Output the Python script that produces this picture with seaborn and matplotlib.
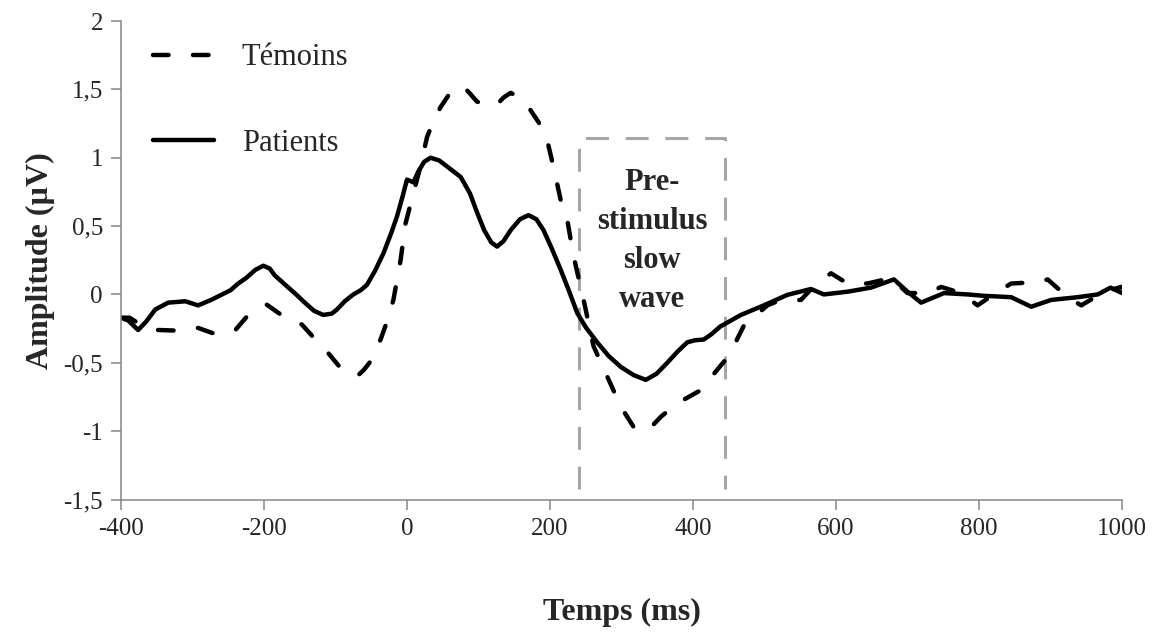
import numpy as np
import pandas as pd
import matplotlib
matplotlib.use('Agg')
import matplotlib.pyplot as plt
import seaborn as sns

# Values (time in ms, amplitude in microvolts)
temoins_t = [-400, -388, -370, -348, -320, -292, -268, -240, -222, -196, -173, -147, -128,
             -110, -91, -80, -68, -60, -51, -37, -28, -19, -9, -2, 9, 19, 28, 37, 47, 61,
             70, 79, 88, 98, 115, 126, 135, 145, 157, 170, 184, 196, 205, 215, 224, 233,
             247, 261, 280, 299, 317, 327, 336, 345, 355, 370, 387, 411, 434, 450, 471,
             504, 518, 551, 569, 593, 616, 644, 677, 700, 728, 747, 775, 798, 826, 845,
             882, 896, 924, 943, 975, 999, 1000]
temoins_amp = [-0.17, -0.17, -0.23, -0.26, -0.265, -0.245, -0.29, -0.26, -0.15, -0.075, -0.16,
               -0.22, -0.33, -0.43, -0.55, -0.585, -0.59, -0.55, -0.49, -0.33, -0.20, -0.04,
               0.25, 0.52, 0.74, 0.94, 1.15, 1.27, 1.37, 1.48, 1.51, 1.52, 1.47, 1.41, 1.38,
               1.39, 1.44, 1.475, 1.44, 1.37, 1.26, 1.13, 0.93, 0.69, 0.55, 0.28, -0.04,
               -0.38, -0.60, -0.82, -0.97, -1.0, -0.99, -0.95, -0.895, -0.83, -0.77, -0.70,
               -0.55, -0.45, -0.23, -0.08, -0.05, -0.04, 0.06, 0.155, 0.08, 0.08, 0.12,
               0.01, 0.01, 0.055, 0.01, -0.08, 0.02, 0.08, 0.09, 0.11, -0.02, -0.08, 0.02,
               0.055, 0.05]

patients_t = [-400, -390, -376, -365, -352, -334, -310, -292, -274, -247, -236, -225, -212,
              -201, -192, -185, -168, -155, -145, -130, -117, -105, -98, -87, -75, -65, -56,
              -45, -33, -22, -14, -6, 0, 9, 16, 24, 33, 45, 60, 75, 88, 98, 108, 118, 126,
              135, 145, 158, 170, 181, 191, 203, 215, 227, 238, 250, 266, 282, 299, 317,
              334, 349, 364, 378, 392, 403, 415, 426, 438, 467, 499, 532, 565, 583, 616,
              649, 681, 700, 719, 751, 784, 807, 845, 873, 901, 938, 966, 984, 1000]
patients_amp = [-0.17, -0.19, -0.26, -0.20, -0.11, -0.06, -0.05, -0.08, -0.04, 0.03, 0.08,
                0.12, 0.18, 0.21, 0.19, 0.14, 0.06, 0.0, -0.05, -0.12, -0.15, -0.14, -0.11,
                -0.05, 0.0, 0.03, 0.07, 0.17, 0.30, 0.45, 0.57, 0.72, 0.84, 0.82, 0.90,
                0.97, 1.0, 0.98, 0.92, 0.86, 0.74, 0.60, 0.47, 0.38, 0.35, 0.39, 0.47, 0.55,
                0.58, 0.55, 0.47, 0.33, 0.18, 0.02, -0.135, -0.24, -0.35, -0.45, -0.53,
                -0.59, -0.625, -0.58, -0.50, -0.42, -0.35, -0.335, -0.33, -0.29, -0.235,
                -0.15, -0.08, -0.003, 0.04, 0.0, 0.02, 0.05, 0.11, 0.02, -0.06, 0.01, 0.0,
                -0.01, -0.02, -0.09, -0.04, -0.02, 0.0, 0.05, 0.01]

groups = ['Témoins', 'Patients']
x_ticks = [-400, -200, 0, 200, 400, 600, 800, 1000]
y_ticks = [-1.5, -1, -0.5, 0, 0.5, 1, 1.5, 2]
y_tick_labels = ['-1,5', '-1', '-0,5', '0', '0,5', '1', '1,5', '2']

# window of the pre-stimulus slow wave
win_start, win_end = 240, 445
win_top, win_bottom = 1.146, -1.42

df = pd.concat([
    pd.DataFrame({'t': temoins_t, 'amp': temoins_amp, 'groupe': 'Témoins'}),
    pd.DataFrame({'t': patients_t, 'amp': patients_amp, 'groupe': 'Patients'}),
])

sns.set_style('white')
plt.rcParams['font.family'] = ['Liberation Serif', 'DejaVu Serif']

fig = plt.figure(figsize=(11.62, 6.39), dpi=100)
ax = fig.add_axes([0.1041, 0.2183, 0.8615, 0.7488])

sns.lineplot(data=df, x='t', y='amp', style='groupe', style_order=groups,
             dashes={'Témoins': (3.5, 5.5), 'Patients': ''}, color='black',
             linewidth=3.2, estimator=None, sort=False, legend=False, ax=ax)
for line in ax.lines:
    line.set_dash_capstyle('round')
    line.set_solid_capstyle('round')
    line.set_solid_joinstyle('round')
    line.set_dash_joinstyle('round')

# gray dashed window (open at the bottom)
ax.plot([win_start, win_start, win_end, win_end], [win_bottom, win_top, win_top, win_bottom],
        color='#a6a6a6', linewidth=2.2, dashes=(7.5, 5.5), zorder=1)
ax.text((win_start + win_end) / 2, 0.39, 'Pre-\nstimulus\nslow\nwave', ha='center', va='center',
        fontsize=22, fontweight='bold', linespacing=1.45)

ax.set_xlim(-400, 1000)
ax.set_ylim(-1.5, 2)
ax.set_xticks(x_ticks)
ax.set_xticklabels([str(v) for v in x_ticks])
ax.set_yticks(y_ticks)
ax.set_yticklabels(y_tick_labels)
ax.tick_params(axis='both', direction='out', length=7, width=1.1, color='#868686',
               labelsize=18, pad=6, bottom=True, left=True)
for side in ['top', 'right']:
    ax.spines[side].set_visible(False)
for side in ['left', 'bottom']:
    ax.spines[side].set_color('#868686')
    ax.spines[side].set_linewidth(1.1)

ax.set_xlabel('Temps (ms)', fontsize=23, fontweight='bold', labelpad=42)
ax.set_ylabel('Amplitude (µV)', fontsize=23, fontweight='bold', labelpad=6)

handles = [ax.lines[0], ax.lines[1]]
ax.legend(handles, groups, loc='upper left', bbox_to_anchor=(0.132, 0.932),
          bbox_transform=fig.transFigure, frameon=False, fontsize=22,
          handlelength=2.0, handletextpad=0.9, labelspacing=1.85, borderpad=0, borderaxespad=0)

fig.savefig('out.png', dpi=100)
